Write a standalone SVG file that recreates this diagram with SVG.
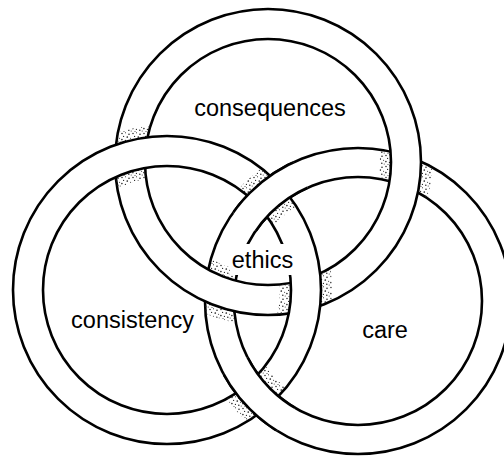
<svg xmlns="http://www.w3.org/2000/svg" width="504" height="457" viewBox="0 0 504 457">
<style>
.band{fill:#fff;stroke:#000;stroke-width:2.6}
.lbl{font-family:"Liberation Sans",Arial,Helvetica,sans-serif;font-size:23.5px;fill:#000;text-anchor:middle}
.stip{fill:none;stroke:url(#dots)}
</style>
<defs>
<pattern id="dots" patternUnits="userSpaceOnUse" width="11" height="11">
<g fill="#222">
<circle cx="1" cy="1.5" r="0.75"/>
<circle cx="4.5" cy="0.8" r="0.55"/>
<circle cx="8" cy="2.2" r="0.8"/>
<circle cx="2.6" cy="4.4" r="0.6"/>
<circle cx="6.3" cy="5" r="0.85"/>
<circle cx="9.6" cy="6.2" r="0.55"/>
<circle cx="0.9" cy="7.6" r="0.8"/>
<circle cx="4.4" cy="8.4" r="0.6"/>
<circle cx="7.8" cy="9.3" r="0.75"/>
<circle cx="10.2" cy="10" r="0.5"/>
<circle cx="3" cy="10.4" r="0.5"/>
</g>
</pattern>
<path id="pT" fill-rule="evenodd" clip-rule="evenodd" d="M115,162 a153,153 0 1,0 306,0 a153,153 0 1,0 -306,0 Z M145,162 a123,123 0 1,0 246,0 a123,123 0 1,0 -246,0 Z"/>
<path id="pL" fill-rule="evenodd" clip-rule="evenodd" d="M13,290 a154,154 0 1,0 308,0 a154,154 0 1,0 -308,0 Z M43,290 a124,124 0 1,0 248,0 a124,124 0 1,0 -248,0 Z"/>
<path id="pR" fill-rule="evenodd" clip-rule="evenodd" d="M205,301 a153,153 0 1,0 306,0 a153,153 0 1,0 -306,0 Z M234,301 a124,124 0 1,0 248,0 a124,124 0 1,0 -248,0 Z"/>
<clipPath id="cT"><use href="#pT"/></clipPath>
<clipPath id="cL"><use href="#pL"/></clipPath>
<clipPath id="cR"><use href="#pR"/></clipPath>
<clipPath id="d1"><circle cx="130" cy="155" r="40"/></clipPath>
<clipPath id="d2"><circle cx="306" cy="295" r="40"/></clipPath>
<clipPath id="d3"><circle cx="406" cy="169" r="40"/></clipPath>
<clipPath id="d4"><circle cx="219" cy="291" r="40"/></clipPath>
<clipPath id="d5"><circle cx="268" cy="193" r="40"/></clipPath>
<clipPath id="d6"><circle cx="257" cy="396" r="40"/></clipPath>
</defs>
<rect width="504" height="457" fill="#fff"/>

<g id="ring-care">
<use href="#pR" class="band"/>
<g clip-path="url(#cR)">
<g clip-path="url(#d3)"><circle class="stip" cx="268" cy="162" r="138" stroke-width="52"/></g>
<g clip-path="url(#d4)"><circle class="stip" cx="268" cy="162" r="138" stroke-width="52"/></g>
</g>
<text class="lbl" x="385" y="338">care</text>
</g>

<g id="ring-consequences">
<use href="#pT" class="band"/>
<g clip-path="url(#cT)">
<g clip-path="url(#d1)"><circle class="stip" cx="167" cy="290" r="139" stroke-width="52"/></g>
<g clip-path="url(#d2)"><circle class="stip" cx="167" cy="290" r="139" stroke-width="52"/></g>
</g>
<text class="lbl" x="270" y="116">consequences</text>
</g>

<g id="ring-consistency">
<use href="#pL" class="band"/>
<g clip-path="url(#cL)">
<g clip-path="url(#d5)"><circle class="stip" cx="358" cy="301" r="138.5" stroke-width="51"/></g>
<g clip-path="url(#d6)"><circle class="stip" cx="358" cy="301" r="138.5" stroke-width="51"/></g>
</g>
<text class="lbl" x="132.5" y="328">consistency</text>
</g>

<g id="ring-care-over">
<g clip-path="url(#d5)"><use href="#pR" class="band"/></g>
<g clip-path="url(#d6)"><use href="#pR" class="band"/></g>
</g>

<g id="label-ethics">
<rect x="230" y="244" width="67" height="31" fill="#fff"/>
<text class="lbl" x="262.5" y="268">ethics</text>
</g>
</svg>
